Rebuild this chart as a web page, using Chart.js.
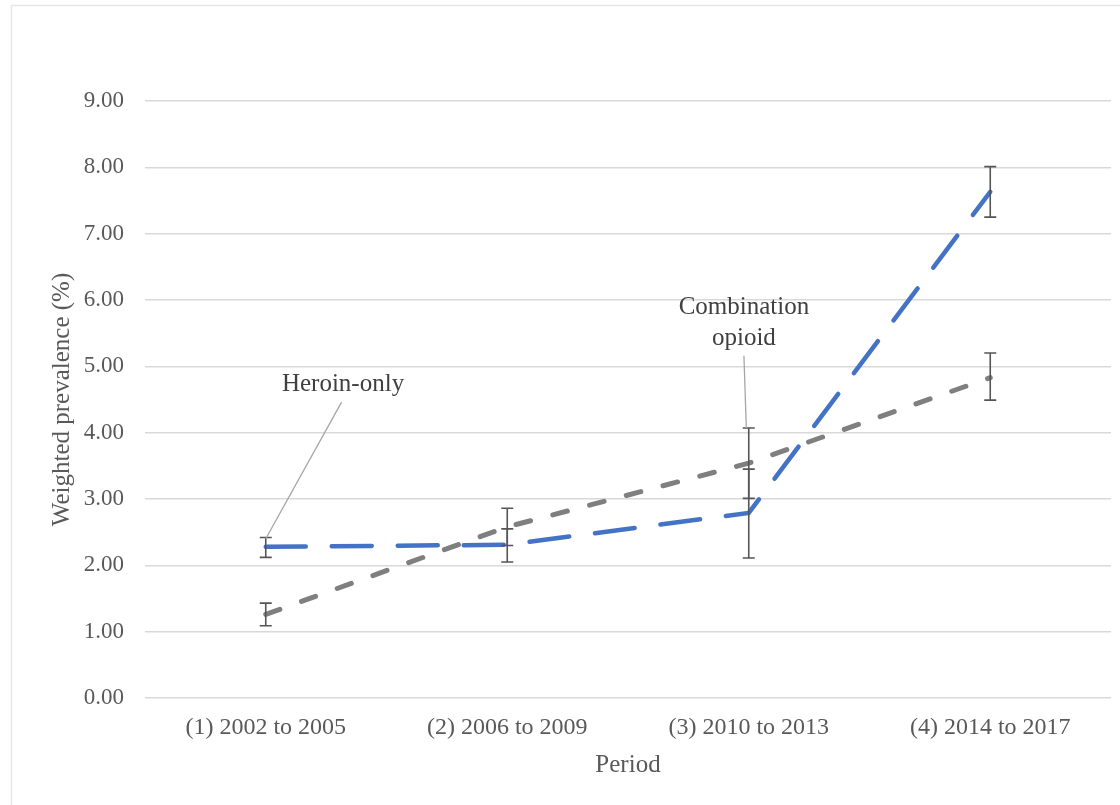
<!DOCTYPE html>
<html>
<head>
<meta charset="utf-8">
<script src="https://cdn.jsdelivr.net/npm/chart.js@4.4.1/dist/chart.umd.min.js"></script>
<style>
  html, body { margin: 0; padding: 0; background: #ffffff; }
  #wrap { width: 1120px; height: 805px; position: relative; }
</style>
</head>
<body>
<div id="wrap"><canvas id="chart" width="1120" height="805"></canvas></div>
<script>
// Survey periods on the x axis
const periods = ['(1) 2002 to 2005', '(2) 2006 to 2009', '(3) 2010 to 2013', '(4) 2014 to 2017'];

// Heroin-only use: weighted prevalence (%) with 95% CI bounds
const heroinOnly = [2.28, 2.31, 2.79, 7.63];
const heroinLow  = [2.12, 2.05, 2.11, 7.25];
const heroinHigh = [2.42, 2.55, 3.45, 8.01];

// Combination opioid use: weighted prevalence (%) with 95% CI bounds
const combination     = [1.26, 2.58, 3.54, 4.83];
const combinationLow  = [1.09, 2.30, 3.01, 4.49];
const combinationHigh = [1.43, 2.86, 4.07, 5.20];

// Y axis tick values
const yTickValues = [0, 1, 2, 3, 4, 5, 6, 7, 8, 9];

const SERIF = '"Liberation Serif", "Times New Roman", serif';

// Draws the confidence-interval whiskers for every series
const errorBarPlugin = {
  id: 'errorBars',
  afterDatasetsDraw(chart) {
    const { ctx, scales: { x, y } } = chart;
    const sets = [
      { low: combinationLow, high: combinationHigh },
      { low: heroinLow, high: heroinHigh }
    ];
    ctx.save();
    ctx.strokeStyle = '#555555';
    ctx.lineWidth = 1.6;
    const cap = 6;
    sets.forEach(s => {
      s.low.forEach((lo, i) => {
        const px = x.getPixelForValue(i);
        const yTop = y.getPixelForValue(s.high[i]);
        const yBot = y.getPixelForValue(lo);
        ctx.beginPath();
        ctx.moveTo(px, yTop); ctx.lineTo(px, yBot);
        ctx.moveTo(px - cap, yTop); ctx.lineTo(px + cap, yTop);
        ctx.moveTo(px - cap, yBot); ctx.lineTo(px + cap, yBot);
        ctx.stroke();
      });
    });
    ctx.restore();
  }
};

// Series name callouts with leader lines
const calloutPlugin = {
  id: 'callouts',
  afterDraw(chart, args, opts) {
    const { ctx, scales: { x, y } } = chart;
    ctx.save();
    opts.items.forEach(item => {
      ctx.strokeStyle = '#a6a6a6';
      ctx.lineWidth = 1.3;
      ctx.beginPath();
      ctx.moveTo(x.getPixelForValue(item.from[0]), y.getPixelForValue(item.from[1]));
      ctx.lineTo(x.getPixelForValue(item.to[0]), y.getPixelForValue(item.to[1]));
      ctx.stroke();
      ctx.fillStyle = '#404040';
      ctx.font = '25px ' + SERIF;
      ctx.textAlign = 'center';
      ctx.textBaseline = 'middle';
      item.lines.forEach((t, k) => {
        ctx.fillText(t, x.getPixelForValue(item.at[0]), y.getPixelForValue(item.at[1] - k * 0.47));
      });
    });
    ctx.restore();
  }
};

// Thin frame along the top and left edges
const framePlugin = {
  id: 'frame',
  beforeDraw(chart) {
    const { ctx } = chart;
    ctx.save();
    ctx.strokeStyle = '#e6e6e6';
    ctx.lineWidth = 1.5;
    ctx.beginPath();
    ctx.moveTo(11.5, 805); ctx.lineTo(11.5, 5.5); ctx.lineTo(1120, 5.5);
    ctx.stroke();
    ctx.restore();
  }
};

new Chart(document.getElementById('chart'), {
  type: 'line',
  data: {
    labels: periods,
    datasets: [
      {
        label: 'Heroin-only',
        data: heroinOnly,
        borderColor: '#4472C4',
        borderWidth: 4.5,
        borderDash: [40, 26],
        borderCapStyle: 'round',
        pointRadius: 0,
        tension: 0,
        fill: false
      },
      {
        label: 'Combination opioid',
        data: combination,
        borderColor: '#7F7F7F',
        borderWidth: 5,
        borderDash: [15, 23],
        borderCapStyle: 'round',
        pointRadius: 0,
        tension: 0,
        fill: false
      }
    ]
  },
  options: {
    responsive: false,
    animation: false,
    layout: { padding: { left: 0, right: 9, top: 101, bottom: 0 } },
    plugins: {
      legend: { display: false },
      tooltip: { enabled: false },
      callouts: {
        items: [
          { lines: ['Heroin-only'], at: [0.32, 4.72], from: [0.314, 4.46], to: [0.0, 2.40] },
          { lines: ['Combination', 'opioid'], at: [1.98, 5.89], from: [1.98, 5.16], to: [1.99, 4.07] }
        ]
      }
    },
    scales: {
      x: {
        offset: true,
        grid: { display: false, drawTicks: false },
        border: { display: false },
        ticks: {
          color: '#595959',
          font: { family: SERIF, size: 24 },
          padding: 15,
          maxRotation: 0
        },
        title: {
          display: true,
          text: 'Period',
          color: '#595959',
          font: { family: SERIF, size: 25 },
          padding: { top: 0, bottom: 25 }
        },
        afterFit(scale) { scale.height = 107; }
      },
      y: {
        min: 0,
        max: 9,
        afterBuildTicks(scale) { scale.ticks = yTickValues.map(v => ({ value: v })); },
        grid: { color: '#d9d9d9', lineWidth: 1.5, drawTicks: false },
        border: { display: false },
        ticks: {
          color: '#595959',
          font: { family: SERIF, size: 23 },
          padding: 21,
          callback: v => Number(v).toFixed(2)
        },
        title: {
          display: true,
          text: 'Weighted prevalence (%)',
          color: '#595959',
          font: { family: SERIF, size: 25 },
          padding: { top: 47, bottom: 0 }
        },
        afterFit(scale) { scale.width = 145; }
      }
    }
  },
  plugins: [framePlugin, errorBarPlugin, calloutPlugin]
});
</script>
</body>
</html>
